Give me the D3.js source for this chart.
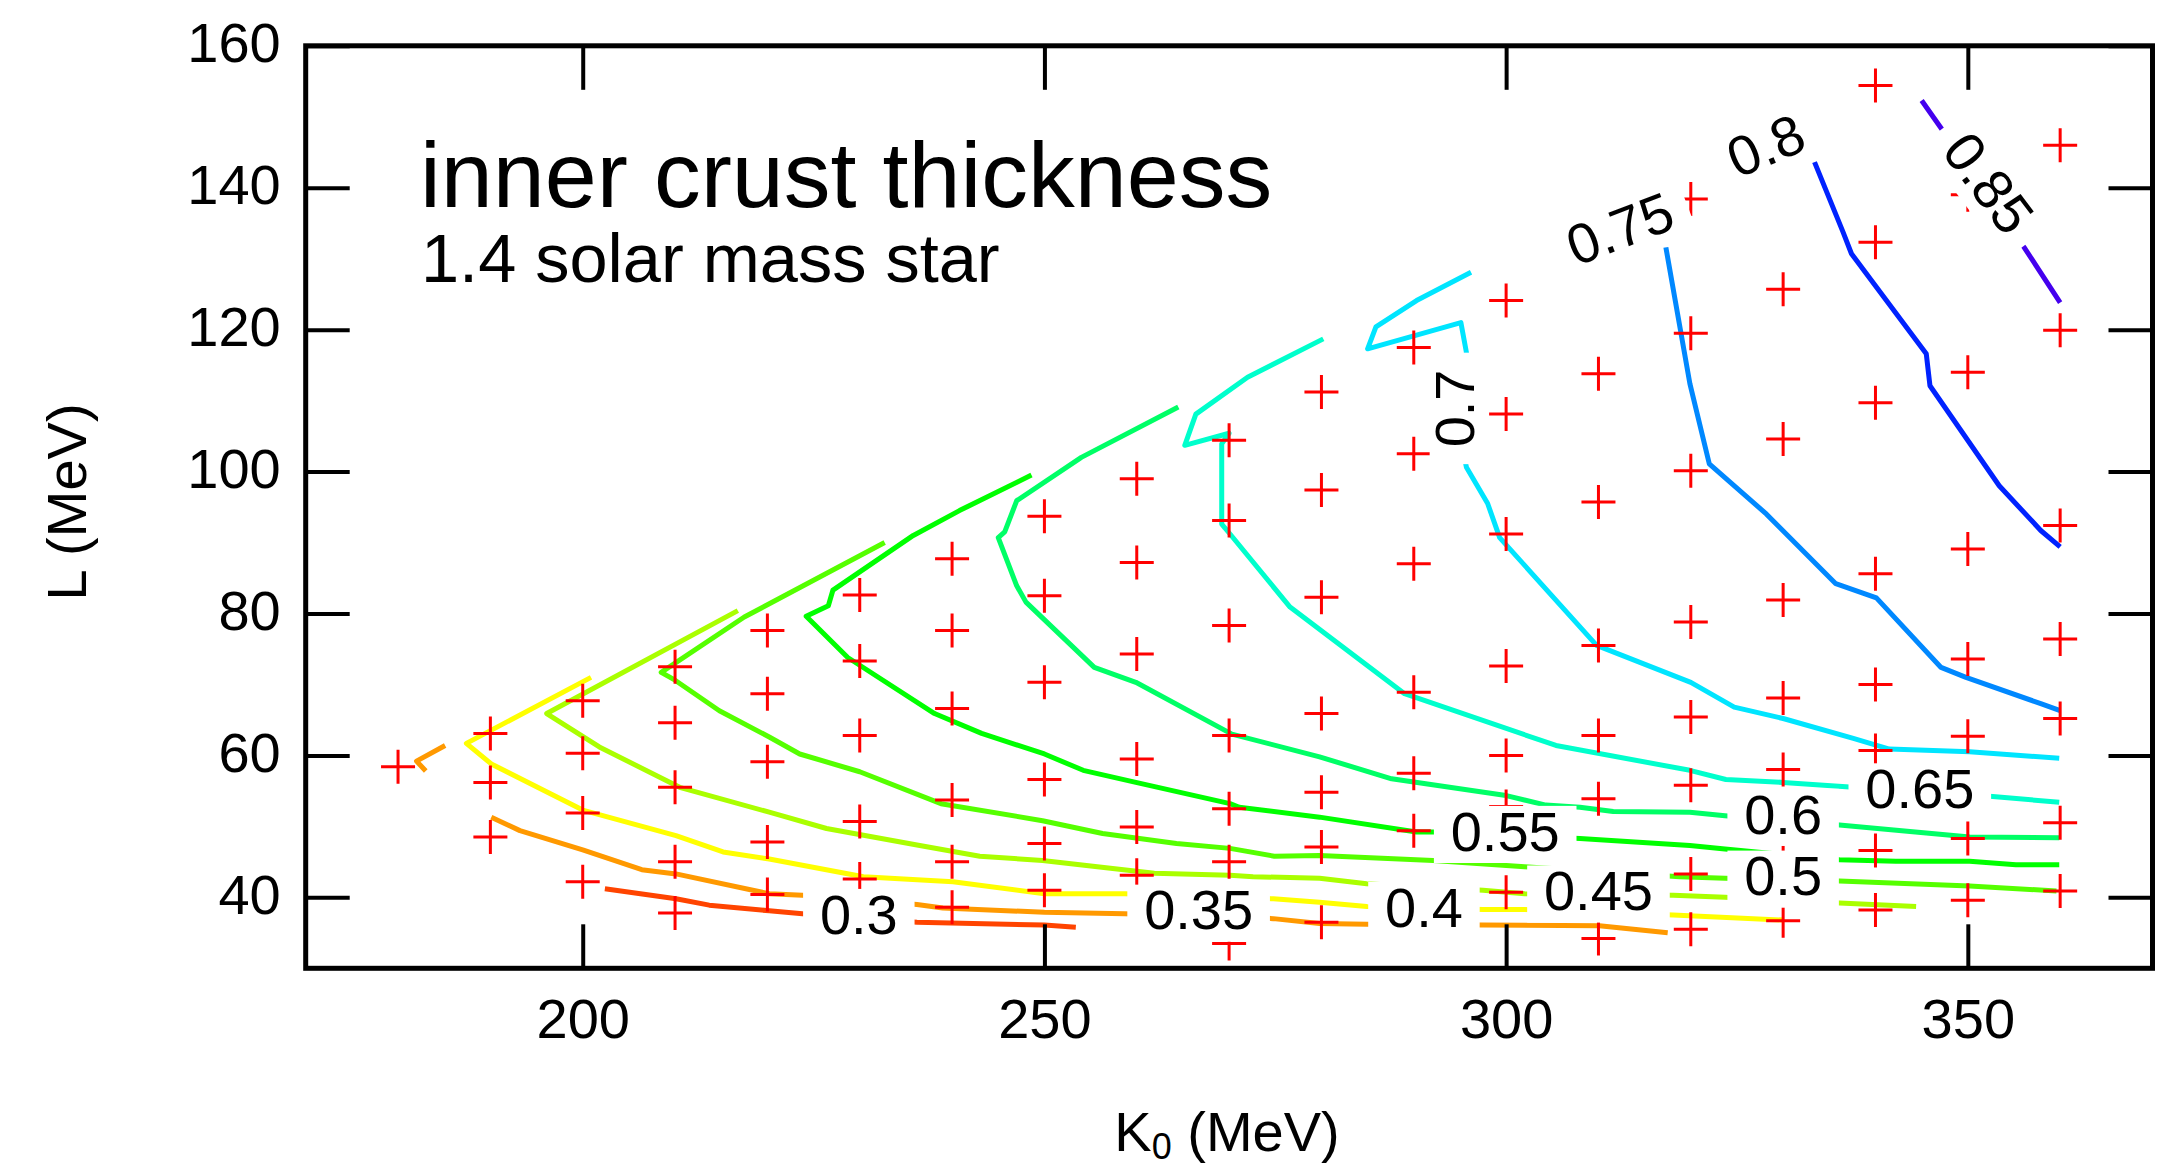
<!DOCTYPE html>
<html>
<head>
<meta charset="utf-8">
<script src="https://cdn.jsdelivr.net/npm/d3@7"></script>
<style>
  html, body { margin: 0; padding: 0; background: #fff; }
  svg { display: block; }
  text { font-family: "Liberation Sans", Arial, Helvetica, sans-serif; fill: #000; }
</style>
</head>
<body>
<svg id="chart" width="2172" height="1168"></svg>
<script>
// ---- axis ticks ----
const kTicks = [200, 250, 300, 350];
const lTicks = [40, 60, 80, 100, 120, 140, 160];

// ---- contour levels (inner crust thickness) and their colours ----
const levels = [0.3, 0.35, 0.4, 0.45, 0.5, 0.55, 0.6, 0.65, 0.7, 0.75, 0.8, 0.85];
const levelColors = ["#ff4400", "#ff9900", "#ffff00", "#aaff00", "#55ff00", "#00ff00",
                     "#00ff66", "#00ffcc", "#00e5ff", "#0088ff", "#0022ff", "#4400ee"];

// ---- contour paths, [K0, L] in MeV ----
const c030 = [[202.4,41.2],[210.1,39.8],[213.7,38.9],[220.2,38.1],[223.8,37.7],[236.2,36.5],[250.0,36.1],[253.4,35.8]];
const c035 = [[190.1,51.3],[193.2,49.4],[200.0,46.7],[206.4,43.9],[210.1,43.3],[220.2,40.5],[223.8,40.3],[236.2,39.0],
              [239.0,38.5],[250.0,37.9],[258.7,37.7],[274.8,37.0],[279.8,36.3],[284.9,36.2],[297.5,36.1],[310.1,36.0],[317.5,35.0]];
const c035b = [[185.1,61.4],[182.0,59.2],[183.0,57.8]];
const c040 = [[200.9,71.0],[187.4,61.7],[190.1,58.8],[200.0,52.3],[210.1,48.7],[215.2,46.4],[220.2,45.4],[230.4,42.9],
              [240.1,42.2],[250.0,40.5],[258.7,40.5],[274.8,39.8],[279.8,39.3],[284.9,38.7],[297.5,38.3],[302.0,38.3],
              [318.1,37.5],[330.0,36.8]];
const c045 = [[216.8,80.4],[196.1,65.9],[201.8,61.2],[210.5,55.5],[220.2,52.0],[226.4,49.7],[236.5,47.3],[243.0,45.8],
              [249.8,45.2],[261.9,43.4],[270.1,43.1],[272.6,42.9],[279.8,42.7],[284.9,41.9],[297.5,41.0],[302.0,40.5],
              [318.1,40.3],[323.7,40.0],[336.1,39.2],[344.4,38.7]];
const c050 = [[232.7,90.0],[217.5,79.5],[208.5,71.7],[210.0,70.6],[214.8,66.3],[220.2,62.6],[223.5,60.2],[230.0,57.7],
              [238.8,53.2],[249.8,50.8],[256.3,49.0],[264.3,47.6],[270.1,46.9],[274.9,45.8],[279.8,45.9],[292.1,45.2],
              [302.0,44.3],[318.8,42.9],[323.7,42.7],[336.1,42.3],[350.2,41.6],[359.6,40.9]];
const c055 = [[248.6,99.5],[240.8,94.5],[235.8,91.0],[227.1,83.3],[226.6,81.1],[224.2,79.6],[228.7,73.8],[238.1,65.9],
              [243.2,63.1],[250.0,60.2],[254.2,57.9],[259.9,56.2],[270.1,53.2],[271.1,52.7],[279.8,51.3],[290.3,49.2],
              [292.1,49.2],[308.0,48.3],[319.9,47.3],[323.7,46.8],[336.1,45.3],[342.2,45.1],[350.2,45.1],[355.2,44.6],[359.9,44.6]];
const c060 = [[264.5,109.1],[254.0,102.0],[247.0,95.9],[245.7,91.5],[245.0,90.7],[247.0,83.9],[248.0,81.6],[255.4,72.4],
              [259.9,70.3],[270.3,63.0],[279.8,59.8],[287.6,56.7],[299.8,54.4],[304.3,53.0],[308.0,52.7],[311.6,52.1],
              [319.9,52.0],[323.7,51.5],[336.1,50.2],[350.2,48.5],[359.9,48.4]];
const c065 = [[280.2,118.7],[272.0,113.3],[266.4,108.1],[265.2,103.7],[270.0,105.4],[269.2,103.9],[269.2,92.6],[270.1,91.2],
              [276.6,80.9],[289.0,68.7],[305.4,61.4],[319.9,57.9],[323.8,56.6],[330.0,56.2],[336.8,55.6],[352.7,54.2],[359.9,53.4]];
const c070 = [[296.2,128.1],[290.3,124.1],[285.9,120.4],[285.0,117.3],[295.1,121.0],[295.7,116.8],[294.4,108.9],[295.7,100.6],
              [298.0,95.5],[299.3,90.7],[309.8,75.5],[320.0,70.3],[324.7,66.8],[330.0,65.2],[337.6,62.4],[341.5,60.9],
              [350.2,60.5],[359.9,59.6]];
const c075 = [[317.3,131.6],[319.9,112.4],[322.0,101.1],[328.2,94.0],[335.7,84.2],[340.1,82.2],[347.1,72.4],[349.8,71.0],
              [357.9,67.3],[360.0,66.3]];
const c080 = [[333.4,143.6],[336.5,133.7],[337.4,130.7],[345.5,116.6],[345.9,112.1],[353.4,98.0],[357.9,91.7],[360.0,89.4]];
const c085 = [[345.0,152.3],[347.0,148.6],[356.1,131.6],[360.0,123.8]];

const contourPaths = [[c030], [c035, c035b], [c040], [c045], [c050], [c055],
                      [c060], [c065], [c070], [c075], [c080], [c085]];

// ---- inline label anchors, one per level: K0, L, text angle (deg) ----
const labelK     = [229.9, 266.7, 291.1, 310.0, 330.0, 299.9, 330.0, 344.8, 294.4, 312.3, 328.1, 352.3];
const labelL     = [37.7,  38.3,  38.7,  41.0,  43.1,  49.4,  51.8,  55.4,  108.9, 134.3, 146.0, 140.7];
const labelAngle = [0, 0, 0, 0, 0, 0, 0, 0, -90, -21, -23, 53];

// ---- computed models: K0 column and the L values sampled in it ----
const sampleColumns = [
  [180, [58.4]],
  [190, [63.1, 56.2, 48.5]],
  [200, [67.7, 60.3, 51.9, 42.2]],
  [210, [72.5, 64.6, 55.5, 45.0, 37.8]],
  [220, [77.6, 68.7, 59.1, 47.8, 40.4]],
  [230, [82.6, 73.3, 62.8, 50.7, 42.6]],
  [240, [87.7, 77.6, 66.6, 53.7, 45.0, 38.6]],
  [250, [93.7, 82.5, 70.3, 56.6, 47.6, 41.0]],
  [260, [99.0, 87.2, 74.3, 59.5, 49.9, 43.1]],
  [270, [104.4, 93.1, 78.3, 62.8, 52.5, 45.0, 33.5]],
  [280, [111.2, 97.4, 82.3, 65.9, 54.8, 47.1, 36.5]],
  [290, [117.5, 102.5, 87.0, 68.9, 57.5, 49.4]],
  [300, [124.1, 108.1, 91.2, 72.6, 60.0, 52.8, 40.7]],
  [310, [113.8, 95.7, 75.5, 62.8, 53.9, 34.2]],
  [320, [138.4, 119.5, 100.1, 78.8, 65.4, 55.8, 43.3, 35.5]],
  [330, [125.7, 104.6, 81.9, 68.1, 58.0, 45.0, 36.7]],
  [340, [154.4, 132.3, 109.7, 85.6, 70.0, 60.7, 46.6, 38.2]],
  [350, [139.0, 114.0, 89.1, 73.6, 62.7, 48.3, 39.6]],
  [360, [146.0, 119.9, 92.4, 76.4, 65.2, 50.5, 40.9]]
];

// ---------------------------------------------------------------
const svg = d3.select("#chart");
const plotL = 305.7, plotR = 2152.5, plotT = 45.8, plotB = 968.3;

const x = d3.scaleLinear().domain([170, 370]).range([plotL, plotR]);
const y = d3.scaleLinear().domain([30, 160]).range([plotB, plotT]);

const line = d3.line().x(d => x(d[0])).y(d => y(d[1]));

// contour lines
const gLines = svg.append("g");
levels.forEach((lev, i) => {
  contourPaths[i].forEach(p => {
    gLines.append("path")
      .attr("d", line(p))
      .attr("fill", "none")
      .attr("stroke", levelColors[i])
      .attr("stroke-width", 5)
      .attr("stroke-linejoin", "round")
      .attr("stroke-linecap", "butt");
  });
});

// model points (red crosses)
const samplePts = sampleColumns.flatMap(([k, ls]) => ls.map(l => [k, l]));
svg.append("g").selectAll("path").data(samplePts).join("path")
  .attr("transform", d => `translate(${x(d[0])},${y(d[1])})`)
  .attr("d", "M-17,0H17M0,-17V17")
  .attr("stroke", "#ff0000")
  .attr("stroke-width", 3)
  .attr("fill", "none");

// contour labels with opaque backgrounds
const fs = 56, pad = 16.8;
const gLab = svg.append("g");
levels.forEach((lev, i) => {
  const g = gLab.append("g")
    .attr("transform", `translate(${x(labelK[i])},${y(labelL[i])}) rotate(${labelAngle[i]})`);
  const t = g.append("text")
    .attr("text-anchor", "middle")
    .attr("y", 0.358 * fs)
    .attr("font-size", fs)
    .text(String(lev));
  const w = t.node().getComputedTextLength();
  g.insert("rect", "text")
    .attr("x", -w / 2 - pad)
    .attr("y", 0.358 * fs - 0.8 * fs)
    .attr("width", w + 2 * pad)
    .attr("height", 1.02 * fs)
    .attr("fill", "#fff");
});

// axes: ticks inward on all four sides
function styleAxis(g) {
  g.select(".domain").remove();
  g.selectAll(".tick line").attr("stroke", "#000").attr("stroke-width", 4);
  g.selectAll(".tick text").attr("font-size", 56).attr("fill", "#000")
    .attr("font-family", "'Liberation Sans', Arial, Helvetica, sans-serif");
}
svg.append("g").attr("transform", `translate(0,${plotB})`)
  .call(d3.axisBottom(x).tickValues(kTicks).tickSizeInner(-44).tickSizeOuter(0).tickPadding(30))
  .call(styleAxis);
svg.append("g").attr("transform", `translate(0,${plotT})`)
  .call(d3.axisTop(x).tickValues(kTicks).tickSizeInner(-44).tickSizeOuter(0).tickFormat(""))
  .call(styleAxis);
svg.append("g").attr("transform", `translate(${plotL},0)`)
  .call(d3.axisLeft(y).tickValues(lTicks).tickSizeInner(-44).tickSizeOuter(0).tickPadding(25))
  .call(styleAxis)
  .call(g => g.selectAll(".tick text").attr("dy", "0.28em"));
svg.append("g").attr("transform", `translate(${plotR},0)`)
  .call(d3.axisRight(y).tickValues(lTicks).tickSizeInner(-44).tickSizeOuter(0).tickFormat(""))
  .call(styleAxis);

// plot frame
svg.append("rect")
  .attr("x", plotL).attr("y", plotT)
  .attr("width", plotR - plotL).attr("height", plotB - plotT)
  .attr("fill", "none").attr("stroke", "#000").attr("stroke-width", 5);

// axis titles
svg.append("text")
  .attr("transform", "translate(86,502) rotate(-90)")
  .attr("text-anchor", "middle")
  .attr("font-size", 56)
  .text("L (MeV)");
const xt = svg.append("text")
  .attr("x", 1227).attr("y", 1151)
  .attr("text-anchor", "middle")
  .attr("font-size", 56);
xt.append("tspan").text("K");
xt.append("tspan").attr("font-size", 36).attr("dy", 8).text("0");
xt.append("tspan").attr("dy", -8).text(" (MeV)");

// in-plot titles
svg.append("text").attr("x", 420).attr("y", 206.7).attr("font-size", 93.5)
  .text("inner crust thickness");
svg.append("text").attr("x", 421).attr("y", 282.3).attr("font-size", 68.5)
  .text("1.4 solar mass star");
</script>
</body>
</html>
